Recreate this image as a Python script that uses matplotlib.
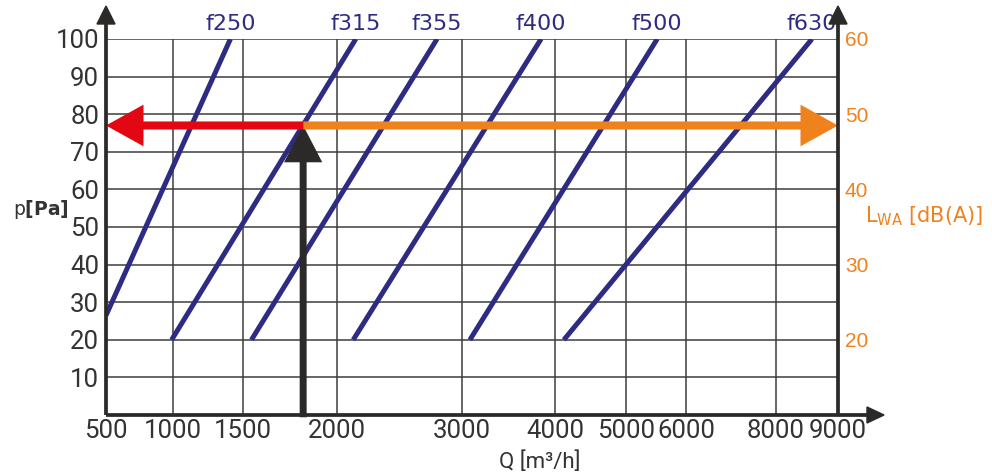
import numpy as np
import matplotlib
matplotlib.use("Agg")
import matplotlib.pyplot as plt
from matplotlib.patches import FancyArrowPatch, Polygon

# ---------------- data ----------------
q_ticks = [500, 1000, 1500, 2000, 3000, 4000, 5000, 6000, 8000, 9000]
p_ticks = [10, 20, 30, 40, 50, 60, 70, 80, 90, 100]
lwa_ticks = [20, 30, 40, 50, 60]

fan_names = ["f250", "f315", "f355", "f400", "f500", "f630"]
fan_q_start = [500, 990, 1545, 2130, 3085, 4125]
fan_p_start = [26.5, 20, 20, 20, 20, 20]
fan_q_end = [1410, 2150, 2800, 3850, 5520, 8580]
fan_p_end = [100, 100, 100, 100, 100, 100]

op_q = 1820   # operating point flow
op_p = 77     # operating point pressure

# ---------------- layout (non-uniform printed Q axis) ----------------
q_tick_frac = (np.array([106, 173, 243, 337, 462, 555, 626, 686, 776, 838]) - 106) / 732.0

def q_fwd(x):
    return np.interp(np.asarray(x, dtype=float), q_ticks, q_tick_frac)

def q_inv(f):
    return np.interp(np.asarray(f, dtype=float), q_tick_frac, q_ticks)

plt.rcParams["mathtext.fontset"] = "dejavusans"
plt.rcParams["mathtext.default"] = "regular"

BLUE = "#2e2c82"
RED = "#e30613"
ORANGE = "#f0821e"
DARK = "#2b2a29"
GREY = "#333333"

fig = plt.figure(figsize=(9.92, 4.74), dpi=100)
ax = fig.add_axes([106 / 992, 1 - 415 / 474, 732 / 992, 376 / 474])
ax.set_xscale("function", functions=(q_fwd, q_inv))
ax.set_xlim(500, 9000)
ax.set_ylim(0, 100)
ax.set_xticks(q_ticks)
ax.set_xticklabels([str(v) for v in q_ticks])
ax.set_yticks(p_ticks)
ax.set_yticklabels([str(v) for v in p_ticks])
ax.xaxis.set_minor_locator(matplotlib.ticker.NullLocator())

tick_font = ["Roboto", "DejaVu Sans"]
for lab in ax.get_xticklabels() + ax.get_yticklabels():
    lab.set_family(tick_font)
    lab.set_fontsize(18.5)
    lab.set_color(GREY)
ax.tick_params(axis="x", length=0, pad=3)
ax.tick_params(axis="y", length=0, pad=5)

ax.grid(True, color="#3d3d3d", lw=1.1)
ax.set_axisbelow(True)
for s in ax.spines.values():
    s.set_visible(False)

# fan curves
for name, qa, pa, qb, pb in zip(fan_names, fan_q_start, fan_p_start, fan_q_end, fan_p_end):
    ax.plot([qa, qb], [pa, pb], color=BLUE, lw=3.6, solid_capstyle="butt", zorder=3)
    ax.text(qb, pb + 4, name, ha="center", va="center", fontsize=16,
            family="DejaVu Sans", color=BLUE, clip_on=False)

# operating point arrows
def arrow(p0, p1, color, hl, hw, tw, z):
    a = FancyArrowPatch(p0, p1, arrowstyle=f"simple,head_length={hl},head_width={hw},tail_width={tw}",
                        mutation_scale=1, color=color, lw=0, shrinkA=0, shrinkB=0,
                        clip_on=False, zorder=z)
    ax.add_patch(a)

arrow((op_q, op_p), (9000, op_p), ORANGE, 27, 30, 5.8, 5)
arrow((op_q, op_p), (500, op_p), RED, 27, 30, 5.8, 5)
arrow((op_q, -0.6), (op_q, op_p), DARK, 26.5, 27.5, 5.0, 4)

# custom axis lines with arrow heads
tr = ax.transAxes
lw_sp = 2.7
ax.plot([0, 0], [0, 1.05], color=DARK, lw=lw_sp, transform=tr, clip_on=False, zorder=7, solid_capstyle="butt")
ax.plot([1, 1], [0, 1.05], color=DARK, lw=lw_sp, transform=tr, clip_on=False, zorder=7, solid_capstyle="butt")
ax.plot([0, 1.045], [0, 0], color=DARK, lw=lw_sp, transform=tr, clip_on=False, zorder=7, solid_capstyle="butt")
hx = 9 / 732
hy = 8 / 376
for x0 in (0, 1):
    ax.add_patch(Polygon([[x0 - hx, (415 - 24) / 376], [x0 + hx, (415 - 24) / 376], [x0, (415 - 6) / 376]],
                         closed=True, color=DARK, transform=tr, clip_on=False, zorder=7))
ax.add_patch(Polygon([[(867 - 106) / 732, -hy], [(867 - 106) / 732, hy], [(884 - 106) / 732, 0]],
                     closed=True, color=DARK, transform=tr, clip_on=False, zorder=7))

# right axis L_WA
ax2 = ax.twinx()
ax2.set_ylim(10, 60)
ax2.set_yticks(lwa_ticks)
ax2.set_yticklabels([str(v) for v in lwa_ticks])
for lab in ax2.get_yticklabels():
    lab.set_family(["Liberation Sans", "DejaVu Sans"])
    lab.set_fontsize(15)
    lab.set_color(ORANGE)
ax2.tick_params(axis="y", length=0, pad=5)
for s in ax2.spines.values():
    s.set_visible(False)

# axis titles
fig.text(13 / 992, 1 - 210 / 474, r"p$\mathbf{[Pa]}$", ha="left", va="center",
         fontsize=13.5, family="DejaVu Sans", color=GREY)
fig.text(865 / 992, 1 - 216 / 474, r"L$_{WA}$ [dB(A)]", ha="left", va="center",
         fontsize=15, family="DejaVu Sans", color=ORANGE)
fig.text(540 / 992, 1 - 462 / 474, "Q [m³/h]", ha="center", va="center",
         fontsize=16, family=["Roboto", "DejaVu Sans"], color=GREY)

fig.savefig("out.png", dpi=100)
